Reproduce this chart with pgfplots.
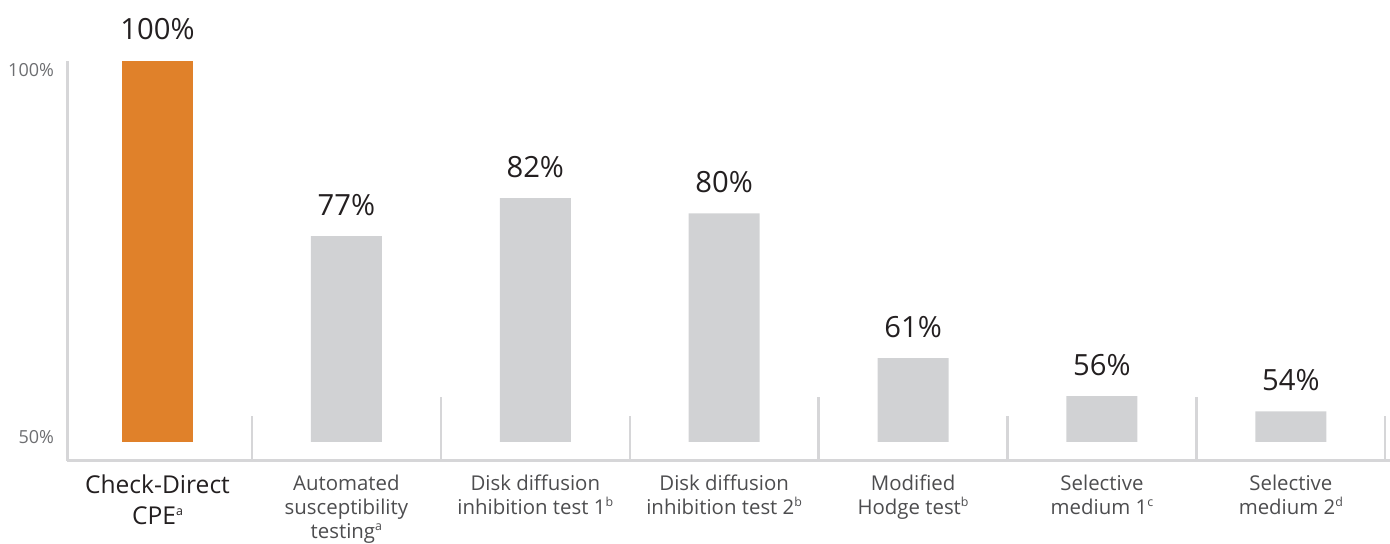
\documentclass[border=0pt]{standalone}
\usepackage{pgfplots}
\pgfplotsset{compat=1.18}
\usepackage{fontspec}
\setmainfont{Open Sans}
\definecolor{cporange}{HTML}{E0812A}
\definecolor{cpgray}{HTML}{D1D2D4}
\definecolor{axgray}{HTML}{D6D6D8}
\definecolor{valtxt}{HTML}{231F20}
\definecolor{cattxt}{HTML}{4D4D4F}
\definecolor{ticktxt}{HTML}{6D6E71}
\newcommand\cdl[1]{{\fontsize{12.3}{13}\selectfont\color{valtxt}#1}}
\newcommand\sps[1]{\raisebox{0.36em}{\fontsize{6.2}{6.2}\selectfont #1}}
\begin{document}
\begin{tikzpicture}
\begin{axis}[
  width=661.5pt, height=200pt, scale only axis,
  xmin=-0.479, xmax=6.525, ymin=47.5, ymax=100,
  y coord trafo/.code={\pgfmathparse{#1-50}},
  y coord inv trafo/.code={\pgfmathparse{#1+50}},
  axis lines=left,
  axis line style={draw=axgray, line width=1.5pt, -},
  xtick={0,1,2,3,4,5,6},
  xticklabels={
    {\cdl{Check-Direct}\\[3.5pt]\cdl{CPE\sps{a}}},
    {Automated\\susceptibility\\testing\sps{a}},
    {Disk diffusion\\inhibition test 1\sps{b}},
    {Disk diffusion\\inhibition test 2\sps{b}},
    {Modified\\Hodge test\sps{b}},
    {Selective\\medium 1\sps{c}},
    {Selective\\medium 2\sps{d}}},
  ytick={50.65,98.8}, yticklabels={50\%,100\%},
  major tick length=0pt, tick style={draw=none},
  xticklabel style={font=\fontsize{10.2}{12}\selectfont, text=cattxt, align=center, anchor=north, yshift=-3.3pt},
  yticklabel style={font=\fontsize{9}{10}\selectfont, text=ticktxt, xshift=-3pt},
  clip=false,
  nodes near coords style={font=\fontsize{14.6}{16}\selectfont, text=valtxt, anchor=base, yshift=10.5pt},
]
\addplot[ybar, bar width=35.5pt, bar shift=0pt, fill=cporange, draw=none,
  point meta=explicit symbolic, nodes near coords={\pgfplotspointmeta}]
  coordinates {(0,100)[100\%]};
\addplot[ybar, bar width=35.5pt, bar shift=0pt, fill=cpgray, draw=none,
  point meta=explicit symbolic, nodes near coords={\pgfplotspointmeta}]
  coordinates {(1,77)[77\%] (2,82)[82\%] (3,80)[80\%] (4,61)[61\%] (5,56)[56\%] (6,54)[54\%]};
\addplot[axgray, line width=1.2pt] coordinates {(0.5,47.5) (0.5,53.4)};
\addplot[axgray, line width=1.2pt] coordinates {(1.5,47.5) (1.5,55.9)};
\addplot[axgray, line width=1.2pt] coordinates {(2.5,47.5) (2.5,53.4)};
\addplot[axgray, line width=1.2pt] coordinates {(3.5,47.5) (3.5,55.9)};
\addplot[axgray, line width=1.2pt] coordinates {(4.5,47.5) (4.5,53.4)};
\addplot[axgray, line width=1.2pt] coordinates {(5.5,47.5) (5.5,55.9)};
\addplot[axgray, line width=1.2pt] coordinates {(6.5,47.5) (6.5,53.4)};
\coordinate (bl) at (rel axis cs:0,0);
\coordinate (tr) at (rel axis cs:1,1);
\end{axis}
\pgfresetboundingbox
\path[use as bounding box] ([shift={(-33.5pt,-41.5pt)}]bl) rectangle ([shift={(0pt,30.5pt)}]tr);
\end{tikzpicture}
\end{document}
